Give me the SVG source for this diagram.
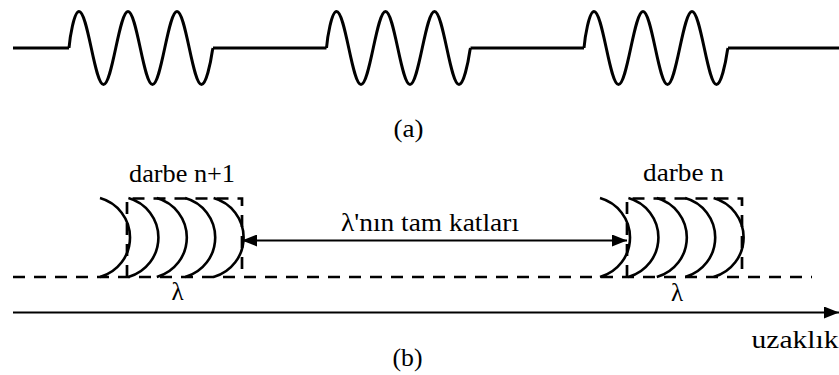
<svg xmlns="http://www.w3.org/2000/svg" xmlns:xlink="http://www.w3.org/1999/xlink" width="839" height="375" viewBox="0 0 839 375">
<style>
.wave{fill:none;stroke:#000;stroke-width:3;stroke-linejoin:round}
.arc{fill:none;stroke:#000;stroke-width:2.6}
.dash{fill:none;stroke:#000;stroke-width:2.7;stroke-dasharray:12 9}
.conn{fill:none;stroke:#000;stroke-width:1.8}
text{font-family:'Liberation Serif',serif;font-size:25px;fill:#000}
</style>
<defs>
<path id="burst" class="wave" d="M0,48 C0.8,38 5,11.5 10,11.5 C18.9,11.5 25.6,84.5 34.5,84.5 C43.4,84.5 50.1,11.5 59,11.5 C67.9,11.5 74.6,84.5 83.5,84.5 C92.4,84.5 99.1,11.5 108,11.5 C116.9,11.5 123.6,84.5 132.5,84.5 C137,84.5 141.5,64 143.5,50 L144,48"/>
<g id="pulse">
<path class="arc" d="M100,198 A41 41 0 0 1 100,277"/>
<path class="arc" d="M128.4,198 A41 41 0 0 1 128.4,277"/>
<path class="arc" d="M156.8,198 A41 41 0 0 1 156.8,277"/>
<path class="arc" d="M185.2,198 A41 41 0 0 1 185.2,277"/>
<path class="arc" d="M213.6,198 A41 41 0 0 1 213.6,277"/>
<path class="dash" d="M127,277 V198.5 H242 V277"/>
</g>
<marker id="ah" viewBox="0 0 15 12" refX="15" refY="6" markerWidth="15" markerHeight="12" markerUnits="userSpaceOnUse" orient="auto-start-reverse">
<path d="M0,0 L15,6 L0,12 Z" fill="#000"/>
</marker>
</defs>
<g id="pulse-train-a">
<path class="wave" d="M13,48 H69 M213,48 H326.5 M470.5,48 H584 M728,48 H839"/>
<use xlink:href="#burst" x="69" y="0"/>
<use xlink:href="#burst" x="326.5" y="0"/>
<use xlink:href="#burst" x="584" y="0"/>
</g>
<text x="408.5" y="137" text-anchor="middle" textLength="30" lengthAdjust="spacingAndGlyphs">(a)</text>
<g id="baseline">
<path class="dash" d="M13,277 H812"/>
</g>
<g id="pulse-n1">
<use xlink:href="#pulse" x="0" y="0"/>
<text x="129" y="182" textLength="106" lengthAdjust="spacingAndGlyphs">darbe n+1</text>
<text x="177.5" y="300" text-anchor="middle">λ</text>
</g>
<g id="pulse-n">
<use xlink:href="#pulse" x="500" y="0"/>
<text x="643" y="181" textLength="81" lengthAdjust="spacingAndGlyphs">darbe n</text>
<text x="677" y="301" text-anchor="middle">λ</text>
</g>
<g id="connectors">
<line class="conn" x1="242" y1="240.5" x2="627" y2="240.5" marker-start="url(#ah)" marker-end="url(#ah)"/>
<line class="conn" x1="13" y1="312.5" x2="839" y2="312.5" marker-end="url(#ah)"/>
</g>
<text x="341" y="231" textLength="178" lengthAdjust="spacingAndGlyphs">λ'nın tam katları</text>
<text x="751.5" y="348" style="font-size:26px" textLength="87" lengthAdjust="spacingAndGlyphs">uzaklık</text>
<text x="407.5" y="366" text-anchor="middle" textLength="30" lengthAdjust="spacingAndGlyphs">(b)</text>
</svg>
